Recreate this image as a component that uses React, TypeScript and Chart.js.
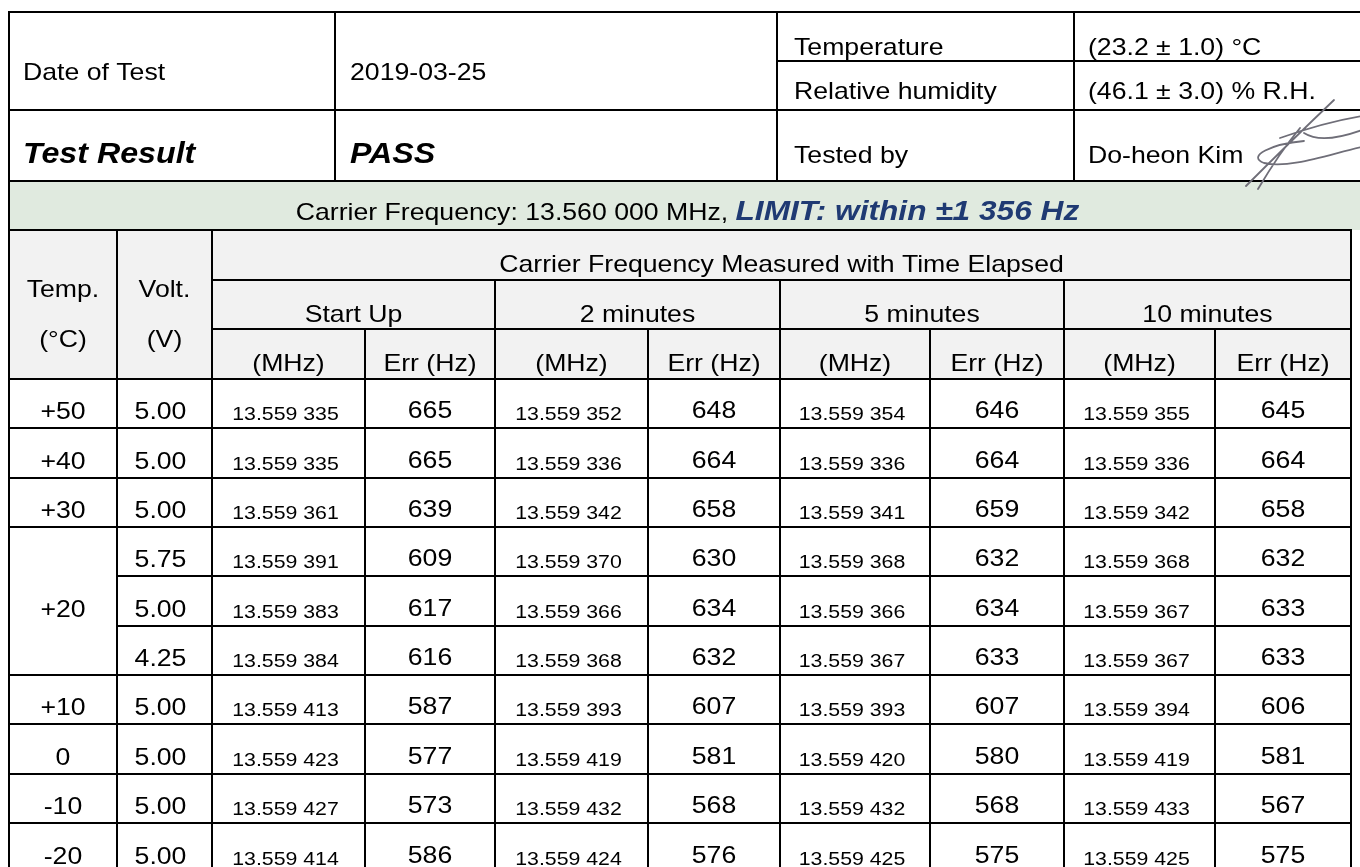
import React, { useEffect, useRef } from "react";
import { Chart, registerables } from "chart.js";

Chart.register(...registerables);

// ---------------- data ----------------
const infoLabels = ["Date of Test", "Test Result"];
const infoValues = ["2019-03-25", "PASS"];
const conditionLabels = ["Temperature", "Relative humidity", "Tested by"];
const conditionValues = ["(23.2 ± 1.0) °C", "(46.1 ± 3.0) % R.H.", "Do-heon Kim"];
const carrierTitle = "Carrier Frequency: 13.560 000 MHz, ";
const limitTitle = "LIMIT: within ±1 356 Hz";
const groupTitle = "Carrier Frequency Measured with Time Elapsed";
const rowHeaderTemp = ["Temp.", "(°C)"];
const rowHeaderVolt = ["Volt.", "(V)"];
const timePoints = ["Start Up", "2 minutes", "5 minutes", "10 minutes"];
const subHeaders = ["(MHz)", "Err (Hz)"];
const temperatures = ["+50", "+40", "+30", "+20", "+10", "0", "-10", "-20"];
const temperatureRowSpans = [1, 1, 1, 3, 1, 1, 1, 1];
const voltages = ["5.00", "5.00", "5.00", "5.75", "5.00", "4.25", "5.00", "5.00", "5.00", "5.00"];
const startUpMHz = [13.559335, 13.559335, 13.559361, 13.559391, 13.559383, 13.559384, 13.559413, 13.559423, 13.559427, 13.559414];
const startUpErr = [665, 665, 639, 609, 617, 616, 587, 577, 573, 586];
const twoMinMHz = [13.559352, 13.559336, 13.559342, 13.55937, 13.559366, 13.559368, 13.559393, 13.559419, 13.559432, 13.559424];
const twoMinErr = [648, 664, 658, 630, 634, 632, 607, 581, 568, 576];
const fiveMinMHz = [13.559354, 13.559336, 13.559341, 13.559368, 13.559366, 13.559367, 13.559393, 13.55942, 13.559432, 13.559425];
const fiveMinErr = [646, 664, 659, 632, 634, 633, 607, 580, 568, 575];
const tenMinMHz = [13.559355, 13.559336, 13.559342, 13.559368, 13.559367, 13.559367, 13.559394, 13.559419, 13.559433, 13.559425];
const tenMinErr = [645, 664, 658, 632, 633, 633, 606, 581, 567, 575];

const mhzSeries = [startUpMHz, twoMinMHz, fiveMinMHz, tenMinMHz];
const errSeries = [startUpErr, twoMinErr, fiveMinErr, tenMinErr];

// ---------------- layout (scale units) ----------------
const SCALE_W = 1360;
const SCALE_H = 867;
const topCols = [9, 335, 777, 1074, 1368];
const topRows = [12, 61, 110, 181];
const bandRows = [181, 230];
const headRows = [230, 280, 329, 379];
const cols = [9, 117, 212, 365, 495, 648, 780, 930, 1064, 1215, 1351];
const rowHeight = 49.35;
const STRETCH = 1.11;
const FONT = "'Liberation Sans', Arial, sans-serif";
const GREEN = "#E0EADF";
const GRAY = "#F2F2F2";
const NAVY = "#1F3A73";

function fmtMHz(v: number): string {
  const s = v.toFixed(6);
  return s.slice(0, 6) + " " + s.slice(6);
}

const tablePlugin = {
  id: "testTable",
  beforeDraw(chart: any) {
    const ctx: CanvasRenderingContext2D = chart.ctx;
    const sx = chart.scales.x;
    const sy = chart.scales.y;
    const X = (v: number) => sx.getPixelForValue(v);
    const Y = (v: number) => sy.getPixelForValue(v);

    const text = (
      s: string,
      x: number,
      y: number,
      font: string,
      align: CanvasTextAlign,
      color = "#000"
    ) => {
      ctx.save();
      ctx.font = font;
      ctx.fillStyle = color;
      ctx.textAlign = align;
      ctx.textBaseline = "alphabetic";
      ctx.translate(x, y);
      ctx.scale(STRETCH, 1);
      ctx.fillText(s, 0, 0);
      ctx.restore();
    };
    const measure = (s: string, font: string) => {
      ctx.save();
      ctx.font = font;
      const w = ctx.measureText(s).width * STRETCH;
      ctx.restore();
      return w;
    };
    const line = (x1: number, y1: number, x2: number, y2: number) => {
      ctx.beginPath();
      ctx.moveTo(Math.round(X(x1)), Math.round(Y(y1)));
      ctx.lineTo(Math.round(X(x2)), Math.round(Y(y2)));
      ctx.stroke();
    };
    const rowEdge = (i: number) => headRows[3] + i * rowHeight;

    const fNorm = `24px ${FONT}`;
    const fBI = `italic bold 29px ${FONT}`;
    const fLimit = `italic bold 28.5px ${FONT}`;
    const fSmall = `19.2px ${FONT}`;

    ctx.save();
    ctx.fillStyle = "#ffffff";
    ctx.fillRect(0, 0, chart.width, chart.height);

    // backgrounds
    ctx.fillStyle = GREEN;
    ctx.fillRect(X(cols[0]), Y(bandRows[0]), X(SCALE_W) - X(cols[0]), Y(bandRows[1]) - Y(bandRows[0]));
    ctx.fillStyle = GRAY;
    ctx.fillRect(X(cols[0]), Y(headRows[0]), X(cols[10]) - X(cols[0]), Y(headRows[3]) - Y(headRows[0]));

    // ---- lines ----
    ctx.strokeStyle = "#000";
    ctx.lineWidth = 2;
    ctx.lineCap = "square";
    // top block
    line(topCols[0], topRows[0], SCALE_W + 10, topRows[0]);
    line(topCols[2], topRows[1], SCALE_W + 10, topRows[1]);
    line(topCols[0], topRows[2], SCALE_W + 10, topRows[2]);
    line(topCols[0], topRows[3], SCALE_W + 10, topRows[3]);
    for (let c = 0; c < 4; c++) line(topCols[c], topRows[0], topCols[c], topRows[3]);
    // band
    line(cols[0], bandRows[0], cols[0], bandRows[1]);
    line(cols[0], bandRows[1], cols[10], bandRows[1]);
    // header
    line(cols[2], headRows[1], cols[10], headRows[1]);
    line(cols[2], headRows[2], cols[10], headRows[2]);
    line(cols[0], headRows[3], cols[10], headRows[3]);
    const bottom = rowEdge(voltages.length);
    for (const c of [0, 1, 2, 10]) line(cols[c], headRows[0], cols[c], bottom);
    for (const c of [4, 6, 8]) line(cols[c], headRows[1], cols[c], bottom);
    for (const c of [3, 5, 7, 9]) line(cols[c], headRows[2], cols[c], bottom);
    // data row separators
    let r = 0;
    const groupStarts = new Set<number>();
    temperatureRowSpans.forEach((span) => {
      groupStarts.add(r);
      r += span;
    });
    for (let i = 1; i <= voltages.length; i++) {
      const startCol = groupStarts.has(i) || i === voltages.length ? 0 : 1;
      line(cols[startCol], rowEdge(i), cols[10], rowEdge(i));
    }

    // ---- top block texts ----
    const topBase = [80, 163];
    infoLabels.forEach((s, i) =>
      text(s, X(topCols[0] + 14), Y(topBase[i]), i === 1 ? fBI : fNorm, "left")
    );
    infoValues.forEach((s, i) =>
      text(s, X(topCols[1] + 15), Y(topBase[i]), i === 1 ? fBI : fNorm, "left")
    );
    const condBase = [55, 99, 163];
    conditionLabels.forEach((s, i) => text(s, X(topCols[2] + 17), Y(condBase[i]), fNorm, "left"));
    conditionValues.forEach((s, i) => text(s, X(topCols[3] + 14), Y(condBase[i]), fNorm, "left"));

    // signature
    ctx.save();
    ctx.strokeStyle = "#6f6e78";
    ctx.lineWidth = 1.8;
    ctx.lineCap = "round";
    ctx.beginPath();
    ctx.moveTo(X(1246), Y(186));
    ctx.quadraticCurveTo(X(1292), Y(140), X(1334), Y(100));
    ctx.moveTo(X(1258), Y(189));
    ctx.quadraticCurveTo(X(1280), Y(152), X(1300), Y(128));
    ctx.moveTo(X(1304), Y(141));
    ctx.bezierCurveTo(X(1272), Y(144), X(1246), Y(156), X(1264), Y(163));
    ctx.bezierCurveTo(X(1290), Y(169), X(1330), Y(154), X(1362), Y(147));
    ctx.moveTo(X(1280), Y(138));
    ctx.bezierCurveTo(X(1308), Y(128), X(1332), Y(121), X(1362), Y(116));
    ctx.moveTo(X(1304), Y(133));
    ctx.bezierCurveTo(X(1318), Y(142), X(1340), Y(138), X(1362), Y(130));
    ctx.stroke();
    ctx.restore();

    // ---- band ----
    const w1 = measure(carrierTitle, fNorm);
    const w2 = measure(limitTitle, fLimit);
    const cx = X((cols[0] + SCALE_W + 6) / 2);
    const startX = cx - (w1 + w2) / 2;
    text(carrierTitle, startX, Y(220), fNorm, "left");
    text(limitTitle, startX + w1, Y(220), fLimit, "left", NAVY);

    // ---- header texts ----
    text(groupTitle, X((cols[2] + cols[10]) / 2), Y(272), fNorm, "center");
    text(rowHeaderTemp[0], X((cols[0] + cols[1]) / 2), Y(297), fNorm, "center");
    text(rowHeaderTemp[1], X((cols[0] + cols[1]) / 2), Y(347), fNorm, "center");
    text(rowHeaderVolt[0], X((cols[1] + cols[2]) / 2), Y(297), fNorm, "center");
    text(rowHeaderVolt[1], X((cols[1] + cols[2]) / 2), Y(347), fNorm, "center");
    timePoints.forEach((s, k) =>
      text(s, X((cols[2 + 2 * k] + cols[4 + 2 * k]) / 2), Y(322), fNorm, "center")
    );
    for (let c = 2; c < 10; c++) {
      text(subHeaders[c % 2], X((cols[c] + cols[c + 1]) / 2), Y(371), fNorm, "center");
    }

    // ---- data ----
    let ri = 0;
    temperatures.forEach((t, k) => {
      const span = temperatureRowSpans[k];
      const mid = ri + Math.floor(span / 2);
      text(t, X((cols[0] + cols[1]) / 2), Y(rowEdge(mid + 1) - 9), fNorm, "center");
      ri += span;
    });
    voltages.forEach((v, i) => {
      const b = rowEdge(i + 1);
      text(v, X((cols[1] + cols[2]) / 2 - 4), Y(b - 9), fNorm, "center");
      for (let k = 0; k < 4; k++) {
        text(fmtMHz(mhzSeries[k][i]), X((cols[2 + 2 * k] + cols[3 + 2 * k]) / 2 - 3), Y(b - 8), fSmall, "center");
        text(String(errSeries[k][i]), X((cols[3 + 2 * k] + cols[4 + 2 * k]) / 2), Y(b - 10), fNorm, "center");
      }
    });
    ctx.restore();
  },
};

export default function App() {
  const canvasRef = useRef<HTMLCanvasElement | null>(null);

  useEffect(() => {
    if (!canvasRef.current) return;
    const chart = new Chart(canvasRef.current, {
      type: "scatter",
      data: { datasets: [{ data: [], pointRadius: 0 }] },
      options: {
        animation: false,
        responsive: false,
        events: [],
        layout: { padding: 0 },
        plugins: { legend: { display: false }, tooltip: { enabled: false } },
        scales: {
          x: { type: "linear", display: false, min: 0, max: SCALE_W },
          y: { type: "linear", display: false, min: 0, max: SCALE_H, reverse: true },
        },
      },
      plugins: [tablePlugin],
    } as any);
    return () => chart.destroy();
  }, []);

  return (
    <div style={{ position: "fixed", left: 0, top: 0, width: SCALE_W, height: SCALE_H, background: "#fff" }}>
      <canvas ref={canvasRef} width={SCALE_W} height={SCALE_H} style={{ display: "block" }} />
    </div>
  );
}
